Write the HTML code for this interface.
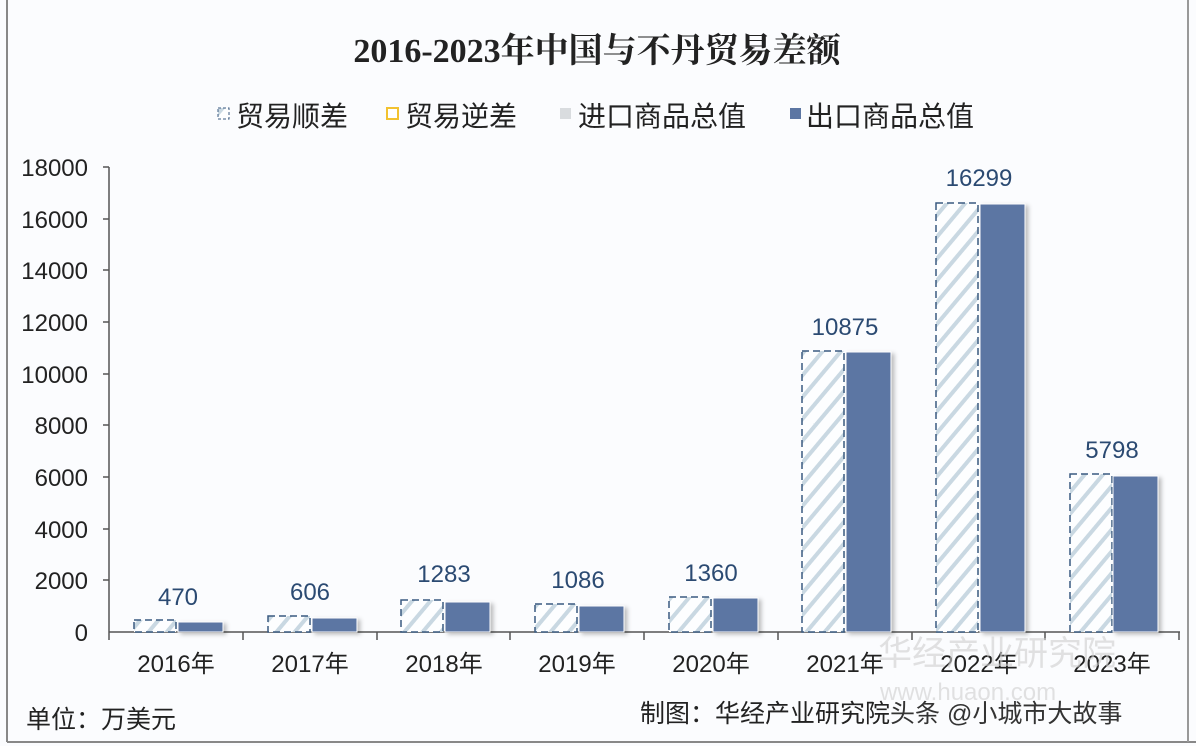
<!DOCTYPE html>
<html><head><meta charset="utf-8"><style>
body{margin:0;background:#fff;}
svg text{font-family:"Liberation Sans","Noto Sans CJK SC",sans-serif;}
</style></head><body>
<svg width="1196" height="746" viewBox="0 0 1196 746" xmlns="http://www.w3.org/2000/svg">
<defs>
<pattern id="h" patternUnits="userSpaceOnUse" width="14" height="14" patternTransform="rotate(40)">
<rect width="14" height="14" fill="#fdfeff"/>
<rect x="0" y="0" width="4" height="14" fill="#c9d8e2"/>
</pattern>
<filter id="sh" x="-20%" y="-5%" width="150%" height="110%"><feDropShadow dx="3" dy="2" stdDeviation="2" flood-color="#000" flood-opacity="0.25"/></filter>
</defs>
<rect x="0" y="0" width="1196" height="746" fill="#fbfcfe"/>
<line x1="7" y1="0" x2="7" y2="742" stroke="#888" stroke-width="2"/>
<line x1="7" y1="742" x2="1196" y2="742" stroke="#888" stroke-width="2"/>
<line x1="1188" y1="0" x2="1188" y2="742" stroke="#999" stroke-width="2"/>
<text x="597" y="62" text-anchor="middle" font-size="34" font-weight="bold" fill="#222" style="font-family:'Liberation Serif','Noto Serif CJK SC',serif">2016-2023年中国与不丹贸易差额</text>
<g font-size="28" fill="#222">
<rect x="218" y="108" width="11" height="11" fill="url(#h)" stroke="#3a5a80" stroke-dasharray="3,2"/>
<text x="236" y="126">贸易顺差</text>
<rect x="387" y="108" width="11" height="11" fill="#fff" stroke="#f2c230" stroke-width="2"/>
<text x="405" y="126">贸易逆差</text>
<rect x="560" y="108" width="11" height="11" fill="#d9dcdf"/>
<text x="578" y="126">进口商品总值</text>
<rect x="790" y="108" width="11" height="11" fill="#5c76a3"/>
<text x="806" y="126">出口商品总值</text>
</g>
<g font-size="24" fill="#222" text-anchor="end">
<text x="88" y="641">0</text><text x="88" y="589">2000</text><text x="88" y="538">4000</text><text x="88" y="486">6000</text><text x="88" y="434">8000</text><text x="88" y="383">10000</text><text x="88" y="331">12000</text><text x="88" y="279">14000</text><text x="88" y="228">16000</text><text x="88" y="176">18000</text>
</g>
<line x1="109" y1="167" x2="109" y2="632" stroke="#555" stroke-width="1.5"/>
<g stroke="#555" stroke-width="1.5">
<line x1="103" y1="167" x2="109" y2="167"/><line x1="103" y1="219" x2="109" y2="219"/><line x1="103" y1="270" x2="109" y2="270"/><line x1="103" y1="322" x2="109" y2="322"/><line x1="103" y1="374" x2="109" y2="374"/><line x1="103" y1="425" x2="109" y2="425"/><line x1="103" y1="477" x2="109" y2="477"/><line x1="103" y1="529" x2="109" y2="529"/><line x1="103" y1="580" x2="109" y2="580"/>
<line x1="109" y1="632" x2="1180" y2="632"/>
<line x1="109" y1="632" x2="109" y2="640"/><line x1="243" y1="632" x2="243" y2="640"/><line x1="377" y1="632" x2="377" y2="640"/><line x1="510" y1="632" x2="510" y2="640"/><line x1="644" y1="632" x2="644" y2="640"/><line x1="778" y1="632" x2="778" y2="640"/><line x1="912" y1="632" x2="912" y2="640"/><line x1="1045" y1="632" x2="1045" y2="640"/><line x1="1179" y1="632" x2="1179" y2="640"/>
</g>
<g stroke="#3a5a80" stroke-width="1.5" stroke-dasharray="7,4" fill="url(#h)">
<rect x="134" y="620" width="42" height="12"/>
<rect x="268" y="616" width="42" height="16"/>
<rect x="401" y="600" width="42" height="32"/>
<rect x="535" y="604" width="42" height="28"/>
<rect x="669" y="597" width="42" height="35"/>
<rect x="802" y="351" width="42" height="281"/>
<rect x="936" y="203" width="42" height="429"/>
<rect x="1070" y="474" width="42" height="158"/>
</g>
<g fill="#5c76a3" stroke="#fff" stroke-width="1" filter="url(#sh)">
<rect x="178" y="622" width="45" height="10"/>
<rect x="312" y="618" width="45" height="14"/>
<rect x="445" y="602" width="45" height="30"/>
<rect x="579" y="606" width="45" height="26"/>
<rect x="713" y="598" width="45" height="34"/>
<rect x="846" y="352" width="45" height="280"/>
<rect x="980" y="204" width="45" height="428"/>
<rect x="1113" y="476" width="45" height="156"/>
</g>
<g font-size="24" fill="#2b4a72" text-anchor="middle">
<text x="178" y="605">470</text><text x="310" y="600">606</text><text x="444" y="582">1283</text><text x="578" y="588">1086</text><text x="711" y="581">1360</text><text x="845" y="335">10875</text><text x="979" y="186">16299</text><text x="1112" y="458">5798</text>
</g>
<g font-size="24" fill="#222" text-anchor="middle">
<text x="176" y="672">2016年</text><text x="310" y="672">2017年</text><text x="444" y="672">2018年</text><text x="577" y="672">2019年</text><text x="711" y="672">2020年</text><text x="845" y="672">2021年</text><text x="979" y="672">2022年</text><text x="1112" y="672">2023年</text>
</g>
<text x="878" y="665" font-size="34" fill="#cfcfcf" opacity="0.6">华经产业研究院</text>
<text x="880" y="700" font-size="24" fill="#cfcfcf" opacity="0.6">www.huaon.com</text>
<text x="26" y="728" font-size="25" fill="#222">单位：万美元</text>
<text x="640" y="722" font-size="25" fill="#222">制图：华经产业研究院</text>
<text x="890" y="722" font-size="25" fill="#333">头条 @小城市大故事</text>
</svg>
</body></html>
